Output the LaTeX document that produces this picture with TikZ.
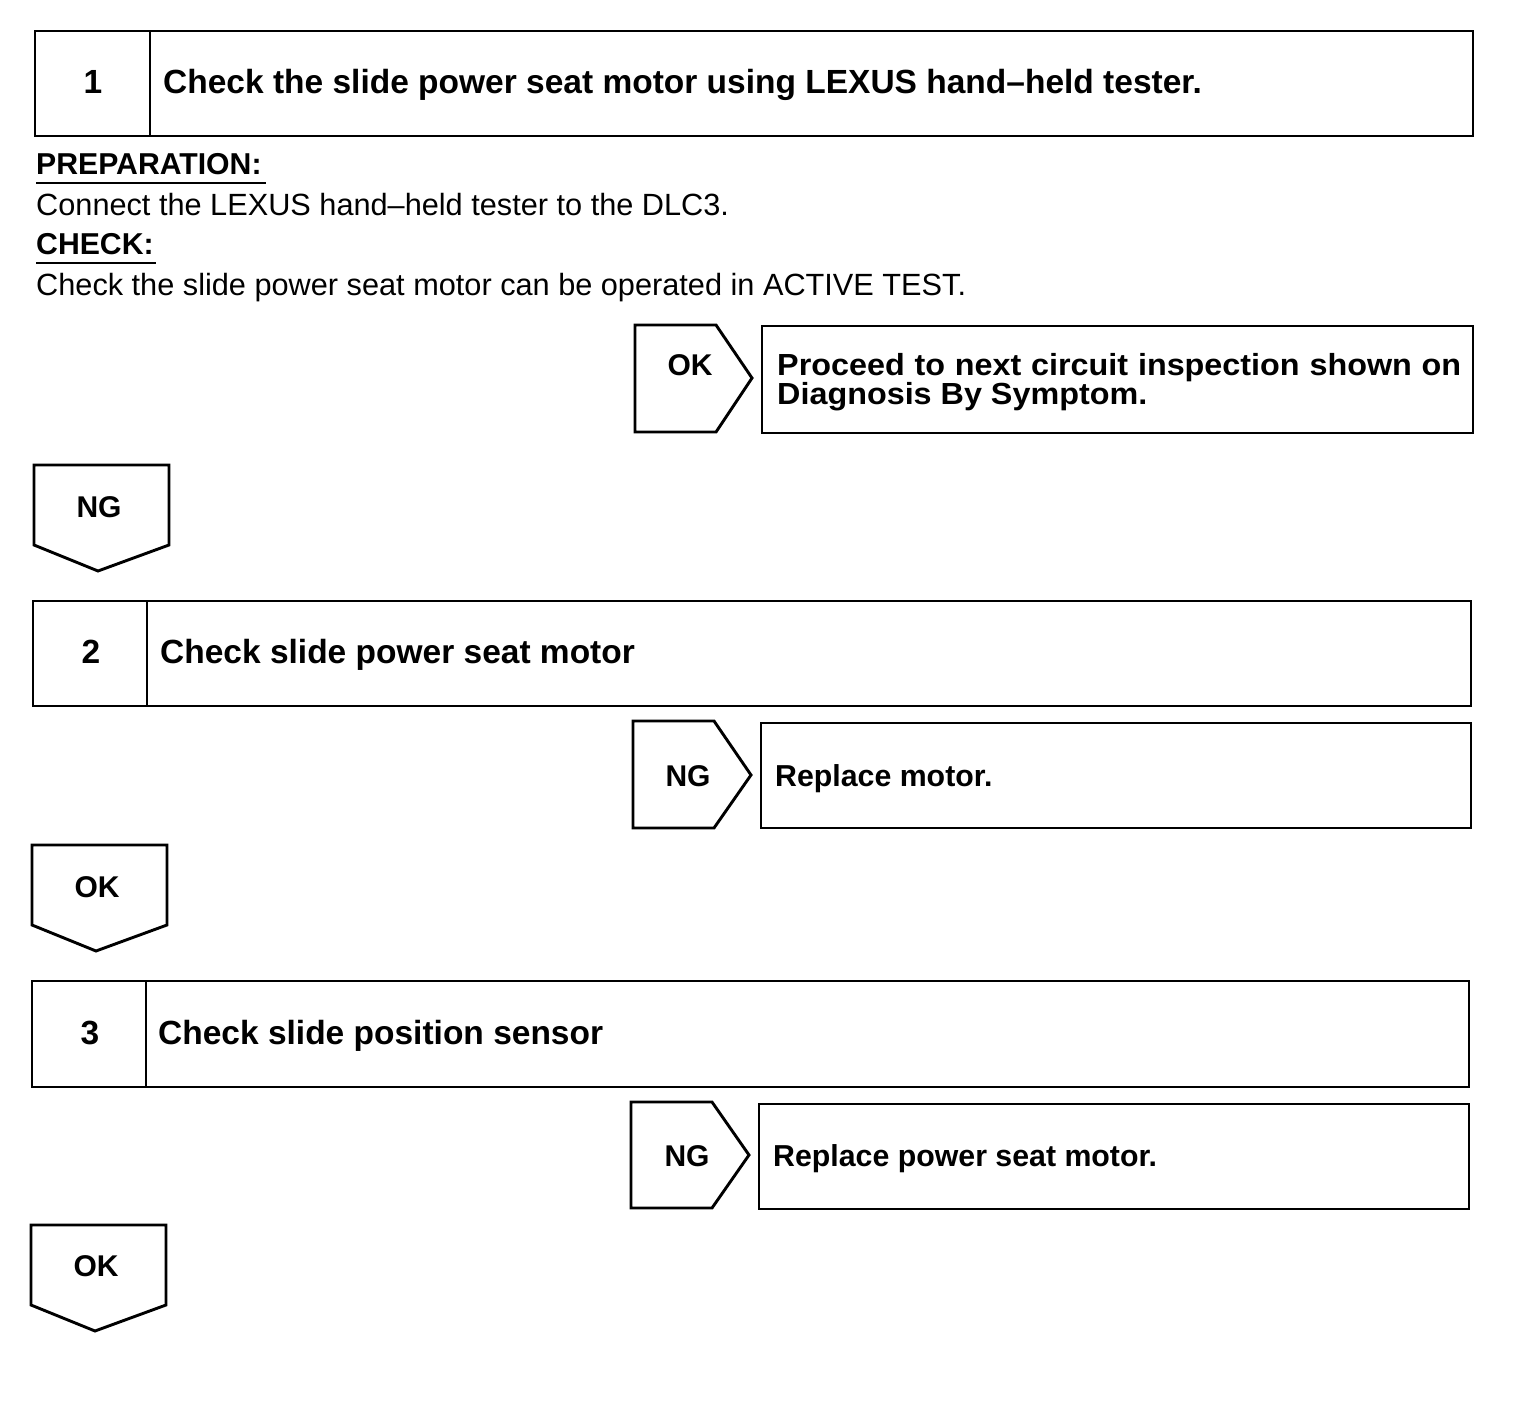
\documentclass[tikz,border=0pt]{standalone}
\usepackage{fontspec}
\setmainfont{Liberation Sans}
\newfontfamily\widefont[FakeStretch=1.06]{Liberation Sans}
\begin{document}
\begin{tikzpicture}[x=1pt,y=-1pt,
  frame/.style={draw=black,line width=2.9pt,line join=miter},
  head/.style={font=\fontsize{33.5}{36}\selectfont\bfseries,anchor=base west,inner sep=0pt},
  num/.style={font=\fontsize{33.5}{36}\selectfont\bfseries,anchor=base,inner sep=0pt},
  lab/.style={font=\fontsize{30}{32}\selectfont\bfseries,anchor=base,inner sep=0pt},
  res/.style={font=\fontsize{30.3}{32}\selectfont\bfseries,anchor=base west,inner sep=0pt},
  body/.style={font=\fontsize{30.7}{32}\selectfont,anchor=base west,inner sep=0pt},
  bodyb/.style={font=\fontsize{30.2}{32}\selectfont\bfseries,anchor=base west,inner sep=0pt}]
\useasboundingbox (0,0) rectangle (1520,1412);
% ---- Step 1
\draw[frame] (35,31) rectangle (1473,136);
\draw[frame] (150,31) -- (150,136);
\node[num] (n1) at (93,94) {1};
\node[head] (h1) at (163,94) {Check the slide power seat motor using LEXUS hand–held tester.};
\node[bodyb] (prep) at (36,175) {PREPARATION:};
\draw[line width=2pt] (36,183) -- (266,183);
\node[body] (conn) at (36,216) {Connect the LEXUS hand–held tester to the DLC3.};
\node[bodyb] (chk) at (36,255) {CHECK:};
\draw[line width=2pt] (36,263) -- (156,263);
\node[body] (chkt) at (36,296) {Check the slide power seat motor can be operated in ACTIVE TEST.};
% OK -> proceed
\draw[frame] (635,325) -- (716,325) -- (752,378) -- (716,432) -- (635,432) -- cycle;
\node[lab] (ok1) at (690,375) {OK};
\draw[frame] (762,326) rectangle (1473,433);
\node[anchor=north west,inner sep=0pt,text width=684pt,align=justify,
  font=\fontsize{30.5}{28}\selectfont\bfseries\widefont] (r1) at (777,353)
  {Proceed to next circuit inspection shown on\linebreak Diagnosis By Symptom.};
% NG down
\draw[frame] (34,465) -- (169,465) -- (169,545) -- (98,571) -- (34,545) -- cycle;
\node[lab] (ng1) at (99,517) {NG};
% ---- Step 2
\draw[frame] (33,601) rectangle (1471,706);
\draw[frame] (147,601) -- (147,706);
\node[num] (n2) at (91,663) {2};
\node[head] (h2) at (160,663) {Check slide power seat motor};
\draw[frame] (633,721) -- (714,721) -- (751,775) -- (714,828) -- (633,828) -- cycle;
\node[lab] (ng2) at (688,786) {NG};
\draw[frame] (761,723) rectangle (1471,828);
\node[res] (r2) at (775,786) {Replace motor.};
\draw[frame] (32,845) -- (167,845) -- (167,925) -- (96,951) -- (32,925) -- cycle;
\node[lab] (ok2) at (97,897) {OK};
% ---- Step 3
\draw[frame] (32,981) rectangle (1469,1087);
\draw[frame] (146,981) -- (146,1087);
\node[num] (n3) at (90,1044) {3};
\node[head] (h3) at (158,1044) {Check slide position sensor};
\draw[frame] (631,1102) -- (712,1102) -- (749,1155) -- (712,1208) -- (631,1208) -- cycle;
\node[lab] (ng3) at (687,1166) {NG};
\draw[frame] (759,1104) rectangle (1469,1209);
\node[res] (r3) at (773,1166) {Replace power seat motor.};
\draw[frame] (31,1225) -- (166,1225) -- (166,1305) -- (95,1331) -- (31,1305) -- cycle;
\node[lab] (ok3) at (96,1276) {OK};
\end{tikzpicture}
\end{document}
